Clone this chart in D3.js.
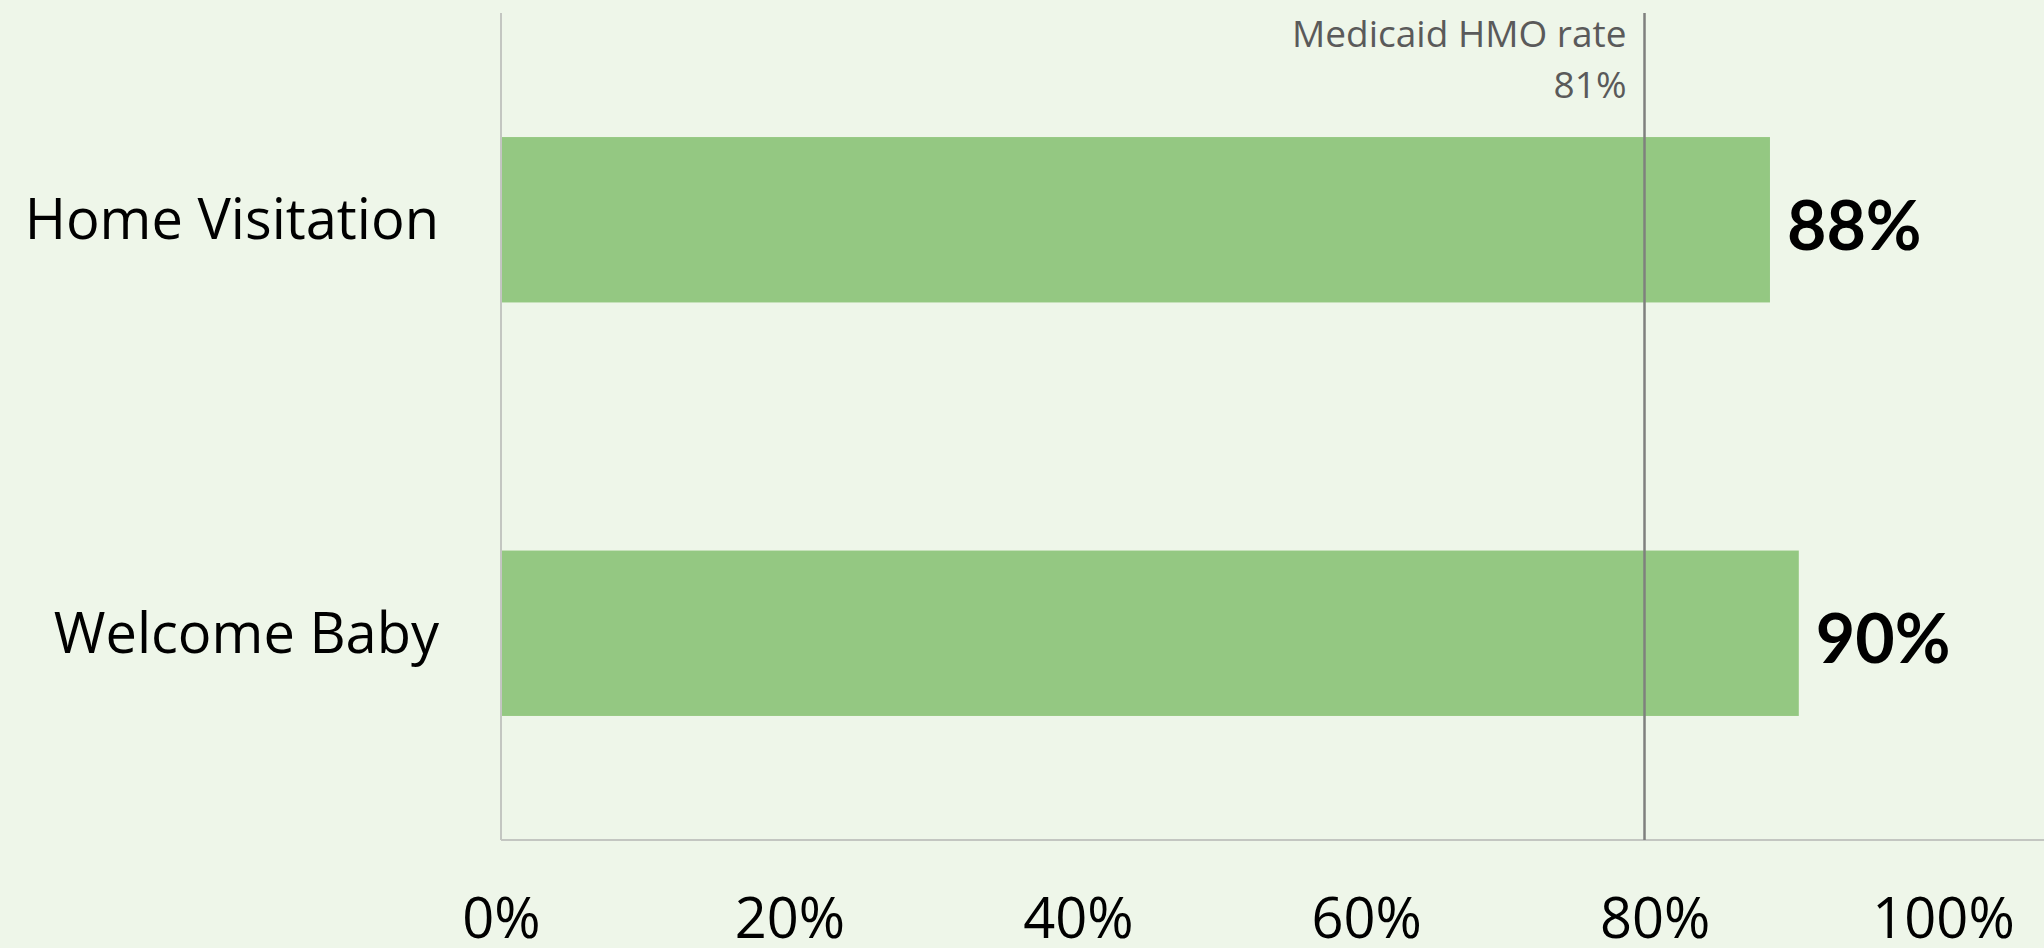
<!DOCTYPE html>
<html>
<head>
<meta charset="utf-8">
<script src="https://cdn.jsdelivr.net/npm/d3@7"></script>
<style>
  html, body { margin: 0; padding: 0; background: #eef6e9; overflow: hidden; }
</style>
</head>
<body>
<div id="chart"></div>
<script>
// data
const categories = ["Home Visitation", "Welcome Baby"];
const values = [0.88, 0.90];
const tickValues = [0, 0.2, 0.4, 0.6, 0.8, 1.0];
const refLineValue = 0.793;
const refLabelLines = ["Medicaid HMO rate", "81%"];

const width = 2044, height = 948;
const margin = { top: 13, right: 0, bottom: 108, left: 501 };
const innerW = width - margin.left - margin.right;
const innerH = height - margin.top - margin.bottom;

const svg = d3.select("#chart")
  .append("svg")
    .attr("width", width)
    .attr("height", height);

svg.append("rect")
  .attr("width", width)
  .attr("height", height)
  .attr("fill", "#eef6e9");

const g = svg.append("g")
  .attr("transform", `translate(${margin.left}, ${margin.top})`);

// scales
const x = d3.scaleLinear()
  .domain([0, 1])
  .range([0, 1442]);

const y = d3.scaleBand()
  .domain(categories)
  .range([0, innerH])
  .paddingInner(0.6)
  .paddingOuter(0.3);

// bars
g.selectAll(".bar")
  .data(categories)
  .enter()
  .append("rect")
    .attr("class", "bar")
    .attr("x", 0)
    .attr("y", d => y(d))
    .attr("width", (d, i) => x(values[i]))
    .attr("height", y.bandwidth())
    .attr("fill", "#94c882");

// axis lines
g.append("line")
  .attr("x1", 0).attr("x2", 0)
  .attr("y1", 0).attr("y2", innerH)
  .attr("stroke", "#c3c6c1")
  .attr("stroke-width", 2);

g.append("line")
  .attr("x1", 0).attr("x2", innerW)
  .attr("y1", innerH).attr("y2", innerH)
  .attr("stroke", "#c3c6c1")
  .attr("stroke-width", 2);

// reference line
g.append("line")
  .attr("x1", x(refLineValue)).attr("x2", x(refLineValue))
  .attr("y1", 0).attr("y2", innerH)
  .attr("stroke", "#7f807e")
  .attr("stroke-width", 2.5);

const refText = g.append("text")
  .attr("text-anchor", "end")
  .attr("font-family", "Open Sans, Noto Sans, sans-serif")
  .attr("font-size", 37)
  .attr("fill", "#5a5a5a");
refLabelLines.forEach((t, i) => {
  refText.append("tspan")
    .attr("x", x(refLineValue) - 18)
    .attr("y", 34 + i * 51)
    .text(t);
});

// x axis
const xAxis = d3.axisBottom(x)
  .tickValues(tickValues)
  .tickSize(0)
  .tickPadding(0)
  .tickFormat(d3.format(".0%"));

g.append("g")
  .attr("class", "xAxis")
  .attr("transform", `translate(0, ${innerH})`)
  .call(xAxis)
  .call(a => a.select(".domain").remove())
  .selectAll("text")
    .attr("dy", null)
    .attr("y", 98)
    .attr("font-family", "Open Sans, Noto Sans, sans-serif")
    .attr("font-size", 56)
    .attr("fill", "#000");

// category labels
g.selectAll(".catLabel")
  .data(categories)
  .enter()
  .append("text")
    .attr("class", "catLabel")
    .attr("x", -62)
    .attr("y", d => y(d) + y.bandwidth() / 2)
    .attr("dy", "0.35em")
    .attr("text-anchor", "end")
    .attr("font-family", "Open Sans, Noto Sans, sans-serif")
    .attr("font-size", 56)
    .attr("fill", "#000")
    .text(d => d);

// value labels
g.selectAll(".valLabel")
  .data(categories)
  .enter()
  .append("text")
    .attr("class", "valLabel")
    .attr("x", (d, i) => x(values[i]) + 17)
    .attr("y", d => y(d) + y.bandwidth() / 2 + 30)
    .attr("font-family", "Lato, Noto Sans, sans-serif")
    .attr("font-weight", "bold")
    .attr("font-size", 68)
    .attr("fill", "#000")
    .text((d, i) => d3.format(".0%")(values[i]));
</script>
</body>
</html>
